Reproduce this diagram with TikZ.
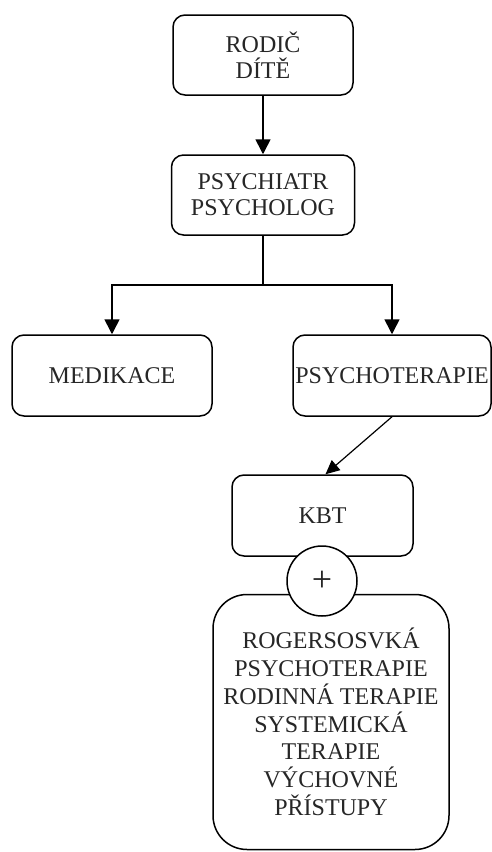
\documentclass[tikz,border=0pt]{standalone}
\usepackage{fontspec}
\setmainfont{Liberation Serif}
\usetikzlibrary{arrows.meta,positioning}
\begin{document}
\begin{tikzpicture}[x=1pt,y=-1pt,
  every node/.style={font=\fontsize{24}{26}\selectfont, text=black!85, align=center, inner sep=0pt},
  box/.style={draw, line width=1.5pt, rounded corners=12pt},
  bigbox/.style={draw, line width=1.5pt, rounded corners=34pt},
  link/.style={line width=1.6pt, -{Triangle[width=15pt,length=15pt]}},
  thinlink/.style={line width=1.2pt, -{Triangle[width=13pt,length=14pt]}}]
\useasboundingbox (0,0) rectangle (492,852);

\node[box, minimum width=180pt, minimum height=80pt] (parent) at (263,55) {RODIČ\\DÍTĚ};
\node[box, minimum width=183pt, minimum height=80pt] (doctor) at (263,195) {PSYCHIATR\\PSYCHOLOG};
\node[box, minimum width=200pt, minimum height=81pt] (meds) at (112,375.5) {MEDIKACE};
\node[box, minimum width=198pt, minimum height=81pt] (therapy) at (392,375.5) {PSYCHOTERAPIE};
\node[box, minimum width=181pt, minimum height=81pt] (kbt) at (322.5,515.5) {KBT};
\node[bigbox, minimum width=236pt, minimum height=255pt,
      font=\fontsize{24}{27.8}\selectfont] (other) at (331,722)
  {ROGERSOSVKÁ\\PSYCHOTERAPIE\\RODINNÁ TERAPIE\\SYSTEMICKÁ\\TERAPIE\\VÝCHOVNÉ\\PŘÍSTUPY};
\node[circle, draw, fill=white, line width=1.5pt, minimum size=70pt,
      font=\fontsize{36}{36}\selectfont] (plus) at (322,581) {+};

\coordinate (split) at (263,285);
\draw[link] (parent.south) -- (doctor.north);
\draw[line width=1.6pt] (doctor.south) -- (split);
\draw[link] (split) -| (meds.north);
\draw[link] (split) -| (therapy.north);
\draw[thinlink] (therapy.south) -- ([xshift=3pt]kbt.north);
\end{tikzpicture}
\end{document}
